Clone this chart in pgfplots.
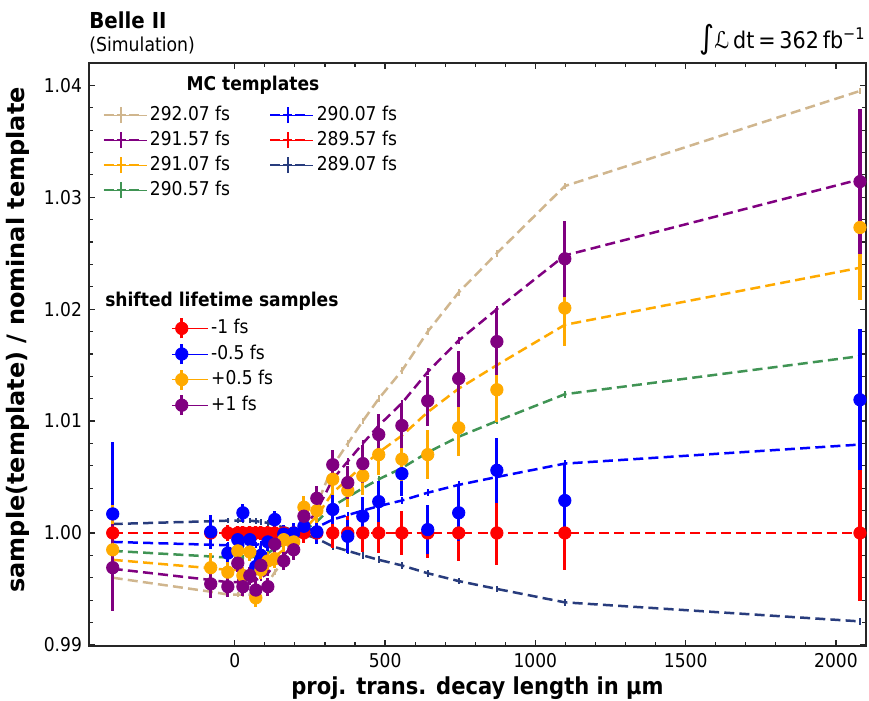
\documentclass[border=0pt]{standalone}
\usepackage{fontspec}
\setmainfont{DejaVu Sans}[FakeStretch=0.9]
\setsansfont{DejaVu Sans}[FakeStretch=0.9]
\newfontfamily\ylabfont{DejaVu Sans}
\usepackage{pgfplots}
\pgfplotsset{compat=1.18}
\usepackage{pgfplotstable}

\definecolor{ctan}{RGB}{208,182,142}
\definecolor{cpurple}{RGB}{128,0,128}
\definecolor{corange}{RGB}{255,170,0}
\definecolor{cgreen}{RGB}{64,148,84}
\definecolor{cblue}{RGB}{0,0,255}
\definecolor{cred}{RGB}{255,0,0}
\definecolor{cnavy}{RGB}{40,60,125}

% MC template ratios (template / nominal) per bin of the decay length
\pgfplotstableread{
x      tan      purple   orange   green    blue     red     navy     err
-406   0.9960   0.9968   0.9976   0.9984   0.9992   1.0000  1.0008   0.00025
-80    0.99475  0.9958   0.99685  0.9979   0.99895  1.0000  1.00105  0.00025
-23    0.9945   0.9956   0.9967   0.9978   0.9989   1.0000  1.0011   0.00025
10     0.9945   0.9956   0.9967   0.9978   0.9989   1.0000  1.0011   0.00025
27     0.9945   0.9956   0.9967   0.9978   0.9989   1.0000  1.0011   0.00025
50     0.9945   0.9956   0.9967   0.9978   0.9989   1.0000  1.0011   0.00025
70     0.99475  0.9958   0.99685  0.9979   0.99895  1.0000  1.00105  0.00025
87     0.9950   0.9960   0.9970   0.9980   0.9990   1.0000  1.0010   0.00025
110    0.9955   0.9964   0.9973   0.9982   0.9991   1.0000  1.0009   0.00025
133    0.9965   0.9972   0.9979   0.9986   0.9993   1.0000  1.0007   0.00025
163    0.9975   0.9980   0.9985   0.9990   0.9995   1.0000  1.0005   0.00025
196    0.99875  0.9990   0.99925  0.9995   0.99975  1.0000  1.00025  0.00025
230    1.0005   1.0004   1.0003   1.0002   1.0001   1.0000  0.9999   0.00025
273    1.0025   1.0020   1.0015   1.0010   1.0005   1.0000  0.9995   0.00025
326    1.0060   1.0048   1.0036   1.0024   1.0012   1.0000  0.9988   0.0003
376    1.0080   1.0064   1.0048   1.0032   1.0016   1.0000  0.9984   0.0003
426    1.0100   1.0080   1.0060   1.0040   1.0020   1.0000  0.9980   0.0003
479    1.0120   1.0096   1.0072   1.0048   1.0024   1.0000  0.9976   0.0003
556    1.0145   1.0116   1.0087   1.0058   1.0029   1.0000  0.9971   0.0003
642    1.0180   1.0144   1.0108   1.0072   1.0036   1.0000  0.9964   0.0003
745    1.0215   1.0172   1.0129   1.0086   1.0043   1.0000  0.9957   0.0003
872    1.0250   1.0200   1.0150   1.0100   1.0050   1.0000  0.9950   0.0003
1098   1.0310   1.0248   1.0186   1.0124   1.0062   1.0000  0.9938   0.0003
2080   1.0395   1.0316   1.0237   1.0158   1.0079   1.0000  0.9921   0.0003
}\templates

% shifted lifetime samples: ratio and uncertainty
\pgfplotstableread{
x      r       re      b       be      o       oe      p       pe
-406   1.0000  0.0030  1.0017  0.0064  0.9985  0.0040  0.9969  0.0039
-80    1.0000  0.0012  1.0001  0.0015  0.9969  0.0013  0.99545 0.0013
-23    1.0000  0.0007  0.9982  0.0009  0.9965  0.0009  0.9952  0.0009
10     1.0000  0.0006  0.9994  0.0008  0.9984  0.0008  0.9973  0.0008
27     1.0000  0.0006  1.0018  0.0008  0.9962  0.0008  0.9952  0.0008
50     1.0000  0.0006  0.9994  0.0008  0.9983  0.0008  0.9962  0.0008
70     1.0000  0.0006  0.9970  0.0008  0.9942  0.0008  0.9949  0.0008
87     1.0000  0.0006  0.9980  0.0008  0.9967  0.0008  0.9971  0.0008
110    1.0000  0.0006  0.9992  0.0008  0.9975  0.0008  0.9952  0.0008
133    1.0000  0.0006  1.0012  0.0008  0.9977  0.0008  0.9990  0.0008
163    1.0000  0.0007  0.9999  0.0008  0.9994  0.0008  0.9975  0.0008
196    1.0000  0.0008  1.0000  0.0009  0.9992  0.0009  0.9985  0.0009
230    1.0000  0.0009  1.0006  0.0010  1.0023  0.0010  1.0015  0.0010
273    1.0000  0.0010  1.0001  0.0011  1.0020  0.0011  1.0031  0.0011
326    1.0000  0.0013  1.0021  0.0013  1.0048  0.0013  1.0061  0.0013
376    1.0000  0.0015  0.9997  0.0015  1.0038  0.0015  1.0045  0.0015
426    1.0000  0.0017  1.0015  0.0017  1.0051  0.0017  1.0062  0.0017
479    1.0000  0.0018  1.0028  0.0018  1.0070  0.0018  1.0088  0.0018
556    1.0000  0.0020  1.0053  0.0020  1.0066  0.0020  1.0096  0.0020
642    1.0000  0.0022  1.0003  0.0022  1.0070  0.0022  1.0118  0.0022
745    1.0000  0.0025  1.0018  0.0025  1.0094  0.0025  1.0138  0.0025
872    1.0000  0.0029  1.0056  0.0029  1.0128  0.0029  1.0171  0.0030
1098   1.0000  0.0033  1.0029  0.0033  1.0201  0.0034  1.0245  0.0034
2080   1.0000  0.0061  1.0119  0.0063  1.0273  0.0065  1.0314  0.0065
}\samples

\pgfplotsset{
  frame/.style={scale only axis, width=388.5pt, height=291.5pt,
    xmin=-485, xmax=2100, ymin=0.9899, ymax=1.0420},
  tmpl/.style={#1, no markers, line width=1.25pt, dash pattern=on 5pt off 2.6pt,
    error bars/.cd, y dir=both, y explicit, error mark=none,
    error bar style={solid, line width=0.8pt, #1}},
  smpl/.style={#1, only marks, mark=*, mark size=3.1pt,
    error bars/.cd, y dir=both, y explicit, error mark=none,
    error bar style={solid, line width=1.55pt, #1}},
}

\begin{document}
\begin{tikzpicture}
\path[use as bounding box] (-44.5pt,-27.5pt) rectangle (390pt,323pt);

\begin{axis}[frame, name=main,
  axis line style={line width=0.7pt, black!85},
  tick align=inside, major tick length=3.2pt, minor tick length=1.8pt,
  every tick/.style={black!85, line width=0.6pt},
  xtick={0,500,1000,1500,2000}, minor x tick num=4,
  ytick={0.99,1.00,1.01,1.02,1.03,1.04}, minor y tick num=4,
  ticklabel style={font=\fontsize{9.5}{11}\selectfont},
  /pgf/number format/assume math mode=true,
  xticklabel style={/pgf/number format/1000 sep={}},
  yticklabel style={/pgf/number format/.cd, fixed, fixed zerofill, precision=2},
  xlabel={proj. trans. decay length in µm},
  ylabel={sample(template) / nominal template},
  xlabel style={font=\bfseries\fontsize{11.7}{13}\selectfont,
    at={(axis description cs:0.5,-0.072)}, anchor=center},
  ylabel style={font=\ylabfont\bfseries\fontsize{12}{13}\selectfont,
    at={(axis description cs:-0.0915,0.525)}, anchor=center},
]
% MC templates
\addplot[tmpl=ctan]    table[x=x, y=tan,    y error=err] {\templates};
\addplot[tmpl=cpurple] table[x=x, y=purple, y error=err] {\templates};
\addplot[tmpl=corange] table[x=x, y=orange, y error=err] {\templates};
\addplot[tmpl=cgreen]  table[x=x, y=green,  y error=err] {\templates};
\addplot[tmpl=cblue]   table[x=x, y=blue,   y error=err] {\templates};
\addplot[tmpl=cred]    table[x=x, y=red,    y error=err] {\templates};
\addplot[tmpl=cnavy]   table[x=x, y=navy,   y error=err] {\templates};
% shifted lifetime samples
\addplot[smpl=cred]    table[x=x, y=r, y error=re] {\samples};
\addplot[smpl=cblue]   table[x=x, y=b, y error=be] {\samples};
\addplot[smpl=corange] table[x=x, y=o, y error=oe] {\samples};
\addplot[smpl=cpurple] table[x=x, y=p, y error=pe] {\samples};

\node[font=\bfseries\fontsize{9.5}{11}\selectfont] at (rel axis cs:0.211,0.962) {MC templates};
\node[font=\bfseries\fontsize{9.5}{11}\selectfont] at (rel axis cs:0.171,0.592) {shifted lifetime samples};
\end{axis}

% legend of the MC templates
\begin{axis}[frame, hide axis, legend columns=2, legend cell align=left,
  legend style={at={(0.0167,0.932)}, anchor=north west, draw=none, fill=none,
    inner sep=0pt, font=\fontsize{9.5}{11}\selectfont,
    nodes={inner sep=1.5pt, text height=7pt, text depth=2pt}, row sep=0.5pt,
    /tikz/every even column/.append style={column sep=18pt}},
  legend image code/.code={
    \path (0pt,0pt) -- (21.5pt,0pt);
    \draw[#1, line width=1.2pt] (0pt,0pt) -- (5pt,0pt);
    \draw[#1, line width=1.2pt] (6.5pt,0pt) -- (11pt,0pt);
    \draw[#1, line width=1.2pt] (12.5pt,0pt) -- (17.5pt,0pt);
    \draw[#1, line width=1pt] (8.75pt,-4pt) -- (8.75pt,4pt);}]
\addlegendimage{ctan}\addlegendentry{292.07 fs}
\addlegendimage{cblue}\addlegendentry{290.07 fs}
\addlegendimage{cpurple}\addlegendentry{291.57 fs}
\addlegendimage{cred}\addlegendentry{289.57 fs}
\addlegendimage{corange}\addlegendentry{291.07 fs}
\addlegendimage{cnavy}\addlegendentry{289.07 fs}
\addlegendimage{cgreen}\addlegendentry{290.57 fs}
\end{axis}

% legend of the shifted lifetime samples
\begin{axis}[frame, hide axis, legend cell align=left,
  legend style={at={(0.1055,0.566)}, anchor=north west, draw=none, fill=none,
    inner sep=0pt, font=\fontsize{9.5}{11}\selectfont,
    nodes={inner sep=1.5pt, text height=7pt, text depth=2pt}, row sep=0.8pt},
  legend image code/.code={
    \path (-5pt,0pt) -- (13pt,0pt);
    \draw[#1, line width=1.55pt] (0pt,-5pt) -- (0pt,5pt);
    \fill[#1] (0pt,0pt) circle (3.1pt);}]
\addlegendimage{cred}\addlegendentry{-1 fs}
\addlegendimage{cblue}\addlegendentry{-0.5 fs}
\addlegendimage{corange}\addlegendentry{+0.5 fs}
\addlegendimage{cpurple}\addlegendentry{+1 fs}
\end{axis}

% experiment labels
\node[anchor=west, inner sep=0pt, font=\bfseries\fontsize{11}{13}\selectfont]
  at ([yshift=21.5pt]main.north west) {Belle II};
\node[anchor=west, inner sep=0pt, font=\fontsize{9.6}{11}\selectfont]
  at ([yshift=9pt]main.north west) {(Simulation)};
\node[anchor=east, inner sep=0pt, font=\fontsize{11.5}{13}\selectfont]
  at ([yshift=11.5pt]main.north east) {{\fontsize{16}{16}\selectfont ∫}ℒ\,dt\,=\,362\,fb\textsuperscript{−1}};
\end{tikzpicture}
\end{document}
